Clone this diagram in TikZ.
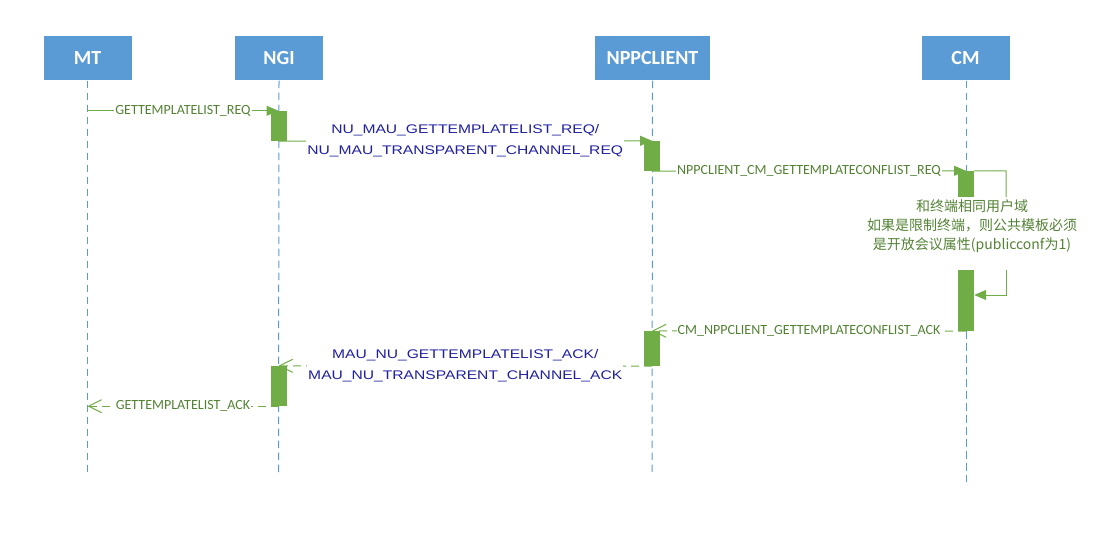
\documentclass[tikz,border=0pt]{standalone}
\usepackage{fontspec}
\setmainfont{Carlito}
\newfontfamily\cnfont{Noto Sans CJK SC}
\newfontfamily\handfont[FakeStretch=1.25]{Liberation Sans}
\usetikzlibrary{arrows.meta, backgrounds, positioning}
\definecolor{boxblue}{RGB}{91,155,213}
\definecolor{bargreen}{RGB}{112,173,71}
\definecolor{textgreen}{RGB}{84,130,53}
\definecolor{msgblue}{RGB}{32,32,160}
\tikzset{
    x=1pt, y=-1pt, % one unit is one pixel, y grows downwards
    actor/.style={fill=boxblue, text=white, minimum width=88pt, minimum height=44pt, font=\bfseries\fontsize{20}{24}\selectfont}, % boxes on top
    lifeline/.style={draw=boxblue, line width=1pt, dash pattern=on 7.5pt off 4.5pt}, % dashed blue lines
    bar/.style={fill=bargreen, minimum width=16pt, inner sep=0pt}, % activation bars
    msg/.style={draw=bargreen, line width=1pt, -{Triangle[length=12pt,width=10pt]}}, % calls
    reply/.style={draw=bargreen, line width=1pt, dash pattern=on 8pt off 5pt, -{Straight Barb[length=13pt,width=13pt]}}, % answers
    lbl/.style={fill=white, text=textgreen, inner xsep=1pt, inner ysep=1pt, font=\fontsize{14}{16}\selectfont},
    bluelbl/.style={fill=white, text=msgblue, align=center, inner xsep=1pt, font=\handfont\fontsize{12.5}{21}\selectfont},
}

\begin{document}
\begin{tikzpicture}
    \useasboundingbox (0,0) rectangle (1107,540);
    % actors
    \node[actor] (mt) at (87.5,58.5) {MT};
    \node[actor] (ngi) at (279,58.5) {NGI};
    \node[actor, minimum width=115pt] (npp) at (652.5,58.5) {NPPCLIENT};
    \node[actor] (cm) at (965.5,58.5) {CM};
    % activation bars
    \node[bar, minimum height=30pt] (ngibar1) at (278.5,126) {};
    \node[bar, minimum height=30pt] (nppbar1) at (652,156) {};
    \node[bar, minimum height=26pt] (cmbar1) at (966,184) {};
    \node[bar, minimum height=61pt] (cmbar2) at (966,300.5) {};
    \node[bar, minimum height=35pt] (nppbar2) at (652,348.5) {};
    \node[bar, minimum height=40pt] (ngibar2) at (278.5,386) {};
    \node[text=textgreen, align=center, font=\cnfont\fontsize{14}{19}\selectfont] (note) at (972,226)
        {和终端相同用户域\\如果是限制终端，则公共模板必须\\是开放会议属性(publicconf为1)};
    \coordinate (mtend) at (87.5,472);
    \coordinate (ngiend) at (278.5,472);
    \coordinate (nppend) at (652,472);
    \coordinate (cmend) at (966,482);
    \coordinate (loopne) at (1006,171);
    \coordinate (loopa) at (1006,197);
    \coordinate (loopb) at (1006,270);
    \coordinate (loopse) at (1006,295);
    \begin{pgfonlayer}{background}
        \draw[lifeline] (mt.south) -- (mtend);
        \draw[lifeline] (ngi.south |- mt.south) -- (ngiend);
        \draw[lifeline] (npp.south) -- (nppend);
        \draw[lifeline] (cmbar1.north |- cm.south) -- (cmbar1.north);
        \draw[lifeline] (cmbar2.south) -- (cmend);
        \draw[msg] (mt.south |- ngibar1.north) -- node[lbl] {GETTEMPLATELIST\_REQ} (ngibar1.north);
        \draw[msg] (ngibar1.south) -- node[bluelbl] {NU\_MAU\_GETTEMPLATELIST\_REQ/\\NU\_MAU\_TRANSPARENT\_CHANNEL\_REQ} (nppbar1.north);
        \draw[msg] (nppbar1.south) -- node[lbl] {NPPCLIENT\_CM\_GETTEMPLATECONFLIST\_REQ} (cmbar1.north);
        \draw[draw=bargreen, line width=1pt] (cmbar1.north east) -- (loopne) -- (loopa);
        \draw[msg] (loopb) -- (loopse) -- (cmbar2.east |- loopse);
        \draw[reply] (cmbar2.south) -- node[lbl] {CM\_NPPCLIENT\_GETTEMPLATECONFLIST\_ACK} (nppbar2.north);
        \draw[reply] (nppbar2.south) -- node[bluelbl] {MAU\_NU\_GETTEMPLATELIST\_ACK/\\MAU\_NU\_TRANSPARENT\_CHANNEL\_ACK} (ngibar2.north);
        \draw[reply] (ngibar2.south) -- node[lbl] {GETTEMPLATELIST\_ACK} (mt.south |- ngibar2.south);
    \end{pgfonlayer}
\end{tikzpicture}
\end{document}
